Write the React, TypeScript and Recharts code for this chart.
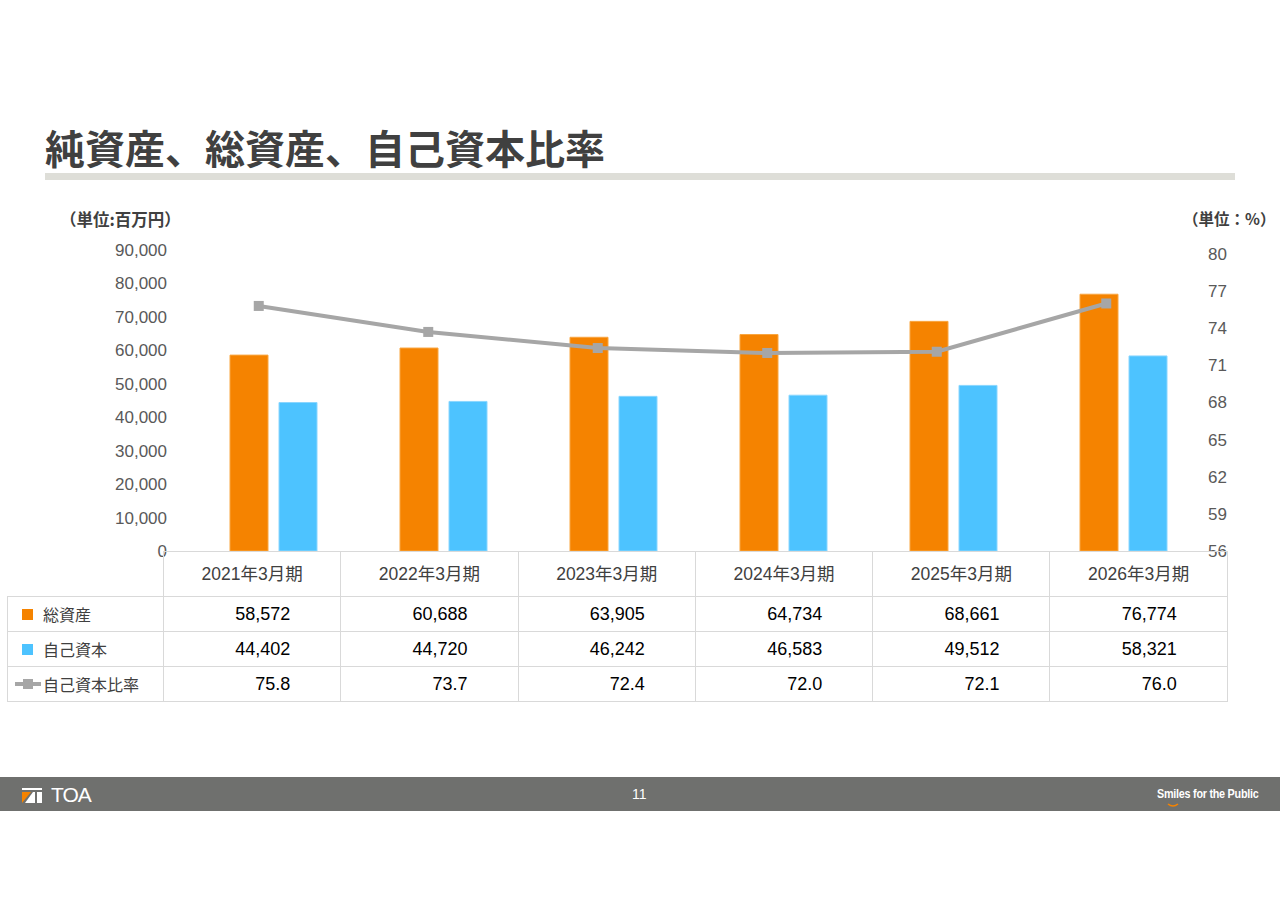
import React from "react"
import { Bar, ComposedChart, Line, XAxis, YAxis } from "recharts"

const periods = ["2021年3月期", "2022年3月期", "2023年3月期", "2024年3月期", "2025年3月期", "2026年3月期"]
const totalAssets = [58572, 60688, 63905, 64734, 68661, 76774]
const equity = [44402, 44720, 46242, 46583, 49512, 58321]
const equityRatio = [75.8, 73.7, 72.4, 72.0, 72.1, 76.0]
const leftTicks = [0, 10000, 20000, 30000, 40000, 50000, 60000, 70000, 80000, 90000]
const rightTicks = [56, 59, 62, 65, 68, 71, 74, 77, 80]

const ORANGE = "#F58300"
const BLUE = "#4DC3FF"
const GRAY = "#A6A6A6"
const GRID = "#D9D9D9"
const TEXT = "#404040"
const NUM_FONT = '"Liberation Sans", Arial, "Noto Sans CJK JP", sans-serif'
const JP_FONT = '"Noto Sans CJK JP", "Liberation Sans", sans-serif'

const chartData = periods.map((period, i) => ({
  period,
  total: totalAssets[i],
  equity: equity[i],
  ratio: equityRatio[i],
}))

const fmt = (v: number) => v.toLocaleString("en-US")

function LeftTick({ x, y, payload }: any) {
  return (
    <text x={x + 4} y={y} dy={6} textAnchor="end" fill="#595959" fontSize={17} fontFamily={NUM_FONT}>
      {fmt(payload.value)}
    </text>
  )
}

function RightTick({ x, y, payload }: any) {
  return (
    <text x={x + 1} y={y} dy={6} textAnchor="end" fill="#595959" fontSize={17} fontFamily={NUM_FONT}>
      {payload.value}
    </text>
  )
}

function SquareDot({ cx, cy }: any) {
  if (cx == null || cy == null) return null
  return <rect x={cx - 5} y={cy - 5} width={10} height={10} fill={GRAY} />
}

const cell: React.CSSProperties = {
  border: `1px solid ${GRID}`,
  padding: 0,
}

function Swatch({ color }: { color: string }) {
  return <span style={{ display: "inline-block", width: 11, height: 11, background: color, marginRight: 10, marginLeft: 14 }} />
}

function LineSwatch() {
  return (
    <svg width={26} height={12} style={{ marginLeft: 7, marginRight: 2, verticalAlign: "middle" }}>
      <line x1={0} y1={6} x2={26} y2={6} stroke={GRAY} strokeWidth={4} />
      <rect x={8} y={1} width={10} height={10} fill={GRAY} />
    </svg>
  )
}

function DataTable() {
  const rows = [
    { label: "総資産", icon: <Swatch color={ORANGE} />, values: totalAssets.map(fmt) },
    { label: "自己資本", icon: <Swatch color={BLUE} />, values: equity.map(fmt) },
    { label: "自己資本比率", icon: <LineSwatch />, values: equityRatio.map((v) => v.toFixed(1)) },
  ]
  return (
    <table
      style={{
        position: "absolute",
        left: 7,
        top: 551,
        borderCollapse: "collapse",
        tableLayout: "fixed",
        width: 1220,
      }}
    >
      <colgroup>
        <col style={{ width: 156 }} />
        {periods.map((p) => (
          <col key={p} style={{ width: 177.3 }} />
        ))}
      </colgroup>
      <tbody>
        <tr style={{ height: 45 }}>
          <td style={{ padding: 0 }} />
          {periods.map((p) => (
            <td
              key={p}
              style={{ ...cell, textAlign: "center", color: TEXT, fontSize: 17.5, fontFamily: NUM_FONT, paddingBottom: 3 }}
            >
              {p}
            </td>
          ))}
        </tr>
        {rows.map((r) => (
          <tr key={r.label} style={{ height: 35 }}>
            <td style={{ ...cell, color: TEXT, fontSize: 16, fontFamily: JP_FONT, whiteSpace: "nowrap" }}>
              <span style={{ display: "flex", alignItems: "center" }}>
                {r.icon}
                {r.label}
              </span>
            </td>
            {r.values.map((v, i) => (
              <td
                key={i}
                style={{ ...cell, textAlign: "right", paddingRight: 50, color: "#000", fontSize: 18, fontFamily: NUM_FONT }}
              >
                {v}
              </td>
            ))}
          </tr>
        ))}
      </tbody>
    </table>
  )
}

export default function App() {
  return (
    <div style={{ position: "fixed", left: 0, top: 0, width: 1280, height: 905, background: "#fff", overflow: "hidden" }}>
      <div
        style={{
          position: "absolute",
          left: 45,
          top: 127,
          fontSize: 40,
          lineHeight: "40px",
          fontWeight: 700,
          color: TEXT,
          fontFamily: JP_FONT,
          whiteSpace: "nowrap",
        }}
      >
        純資産、総資産、自己資本比率
      </div>
      <div style={{ position: "absolute", left: 45, top: 173, width: 1190, height: 7, background: "#DEDED8" }} />

      <div
        style={{
          position: "absolute",
          left: 60,
          top: 207,
          fontSize: 16.5,
          fontWeight: 700,
          color: TEXT,
          fontFamily: JP_FONT,
          whiteSpace: "nowrap",
        }}
      >
        （単位:百万円）
      </div>
      <div
        style={{
          position: "absolute",
          left: 1183,
          top: 207,
          fontSize: 15.5,
          fontWeight: 700,
          color: TEXT,
          fontFamily: JP_FONT,
          whiteSpace: "nowrap",
        }}
      >
        （単位：%）
      </div>

      <div style={{ position: "absolute", left: 0, top: 0 }}>
        <ComposedChart
          width={1280}
          height={600}
          data={chartData}
          barGap={11}
          margin={{ top: 250, right: 24, bottom: 49, left: 103 }}
        >
          <XAxis
            xAxisId="bars"
            dataKey="period"
            height={0}
            tick={false}
            tickLine={false}
            axisLine={{ stroke: GRID, strokeWidth: 1 }}
            padding={{ left: 25, right: 18 }}
          />
          <XAxis xAxisId="line" dataKey="period" hide padding={{ left: 11, right: 35 }} />
          <YAxis
            yAxisId="left"
            width={60}
            domain={[0, 90000]}
            ticks={leftTicks}
            axisLine={false}
            tickLine={false}
            tickSize={0}
            tickMargin={0}
            tick={<LeftTick />}
          />
          <YAxis
            yAxisId="right"
            orientation="right"
            width={30}
            domain={[56, 80.32]}
            ticks={rightTicks}
            axisLine={false}
            tickLine={false}
            tickSize={0}
            tickMargin={0}
            tick={<RightTick />}
            allowDataOverflow
          />
          <Bar
            xAxisId="bars"
            yAxisId="left"
            dataKey="total"
            name="総資産"
            fill={ORANGE}
            stroke="#F9A640"
            strokeWidth={1}
            barSize={38}
            isAnimationActive={false}
          />
          <Bar
            xAxisId="bars"
            yAxisId="left"
            dataKey="equity"
            name="自己資本"
            fill={BLUE}
            stroke="#8AD6FF"
            strokeWidth={1}
            barSize={38}
            isAnimationActive={false}
          />
          <Line
            xAxisId="line"
            yAxisId="right"
            dataKey="ratio"
            name="自己資本比率"
            type="linear"
            stroke={GRAY}
            strokeWidth={4}
            dot={<SquareDot />}
            activeDot={false}
            isAnimationActive={false}
          />
        </ComposedChart>
      </div>

      <DataTable />

      <div style={{ position: "absolute", left: 0, top: 777, width: 1280, height: 34, background: "#6F706E" }}>
        <svg width={22} height={16} style={{ position: "absolute", left: 22, top: 11 }}>
          <rect x={0} y={0} width={20} height={2} fill="#fff" />
          <polygon points="0,4 9,4 0,15" fill={ORANGE} />
          <polygon points="11,4 20,4 20,15 3,15" fill="#fff" />
          <rect x={13} y={4} width={2} height={11} fill="#6F706E" />
        </svg>
        <div
          style={{
            position: "absolute",
            left: 51,
            top: 6,
            fontSize: 21,
            color: "#fff",
            fontFamily: NUM_FONT,
            letterSpacing: -1,
          }}
        >
          TOA
        </div>
        <div style={{ position: "absolute", left: 632, top: 9, fontSize: 14, color: "#fff", fontFamily: NUM_FONT }}>11</div>
        <div
          style={{
            position: "absolute",
            left: 1157,
            top: 9,
            fontSize: 13,
            fontWeight: 700,
            color: "#fff",
            fontFamily: NUM_FONT,
            letterSpacing: -0.3,
            whiteSpace: "nowrap",
            transform: "scaleX(0.83)",
            transformOrigin: "left center",
          }}
        >
          Smiles for the Public
        </div>
        <svg width={12} height={5} style={{ position: "absolute", left: 1167, top: 26 }}>
          <path d="M1 1 Q6 5 11 1" stroke={ORANGE} strokeWidth={1.5} fill="none" />
        </svg>
      </div>
    </div>
  )
}
